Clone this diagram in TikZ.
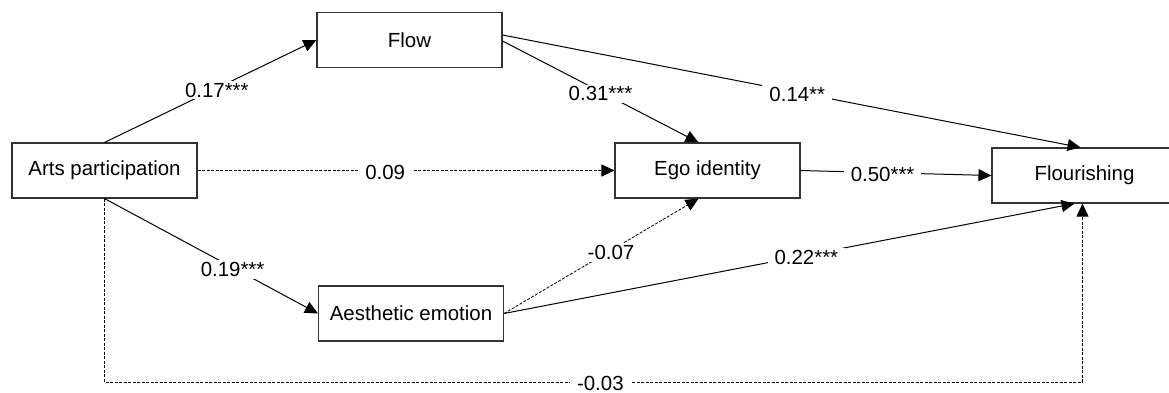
\documentclass[tikz,border=0pt]{standalone}
\usepackage{fontspec}
\setmainfont{Liberation Sans}
\usetikzlibrary{arrows.meta,calc}
\begin{document}
\begin{tikzpicture}[x=1bp,y=-1bp,
  var/.style={draw=black!80, line width=1.1bp, minimum width=185bp, minimum height=55bp,
    inner sep=0pt, font=\fontsize{20.5}{24}\selectfont},
  sig/.style={line width=1bp, -{Triangle[length=13bp,width=12bp]}},
  nsig/.style={sig, line width=0.8bp, dash pattern=on 3bp off 1.5bp},
  coef/.style={fill=white, inner xsep=7bp, inner ysep=2bp, yshift=-2bp,
    font=\fontsize{20.5}{24}\selectfont}]
\useasboundingbox (0,0) rectangle (1169,392);

% latent variables
\node[var] (arts)  at (104.5,170.5) {Arts participation};
\node[var] (flow)  at (409.5,40)    {Flow};
\node[var] (ego)   at (707.5,170.5) {Ego identity};
\node[var] (aes)   at (411,313.5)   {Aesthetic emotion};
\node[var] (flour) at (1084.5,175.5) {Flourishing};

% corners of the direct path along the bottom
\coordinate (base) at (0,382);
\coordinate (fs) at ($(flour.south)+(-2,0)$);
\coordinate (bl) at (arts.south |- base);
\coordinate (br) at (fs |- base);

% significant paths
\draw[sig] (arts.north) -- node[coef,pos=0.53] (c1) {0.17***} (flow.west);
\draw[sig] ($(flow.east)+(0,1)$) -- node[coef,pos=0.5] (c2) {0.31***} ($(ego.north)+(-9,0)$);
\draw[sig] ($(flow.east)+(0,-5)$) -- node[coef,pos=0.51] (c3) {0.14**} ($(flour.north)+(-4,0)$);
\draw[sig] (ego.east) -- node[coef,pos=0.43] (c4) {0.50***} (flour.west);
\draw[sig] (arts.south) -- node[coef,pos=0.6] (c5) {0.19***} (aes.west);
\draw[sig] (aes.east) -- node[coef,pos=0.53] (c6) {0.22***} ($(flour.south)+(-10,0)$);

% non-significant paths
\draw[nsig] (arts.east) -- node[coef,pos=0.45] (c7) {0.09} (ego.west);
\draw[nsig] (aes.east) -- node[coef,pos=0.55] (c8) {-0.07} ($(ego.south)+(-9,0)$);
\draw[nsig] (arts.south) -- (bl) -- node[coef,pos=0.507,yshift=1bp] (c9) {-0.03} (br) -- (fs);
\end{tikzpicture}
\end{document}
